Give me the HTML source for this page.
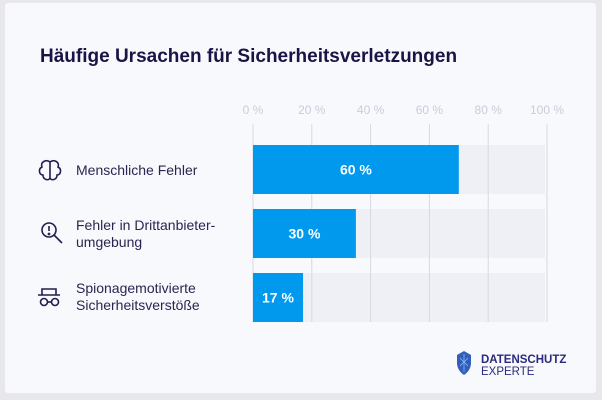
<!DOCTYPE html>
<html><head><meta charset="utf-8"><style>
body{margin:0;width:602px;height:400px;background:#e8e8ec;overflow:hidden;font-family:"Liberation Sans",sans-serif}
#card{position:absolute;left:5px;top:3px;width:591px;height:390px;background:#f8f9fd;border-radius:3px}
svg{position:absolute;left:0;top:0}
</style></head><body>
<div id="card"></div>
<svg id="chart" width="602" height="400">
<text x="40" y="62" font-size="19" font-weight="bold" fill="#1a1446">Häufige Ursachen für Sicherheitsverletzungen</text>
<g fill="none" stroke="#231c50" stroke-width="1.6">
<path d="M50 162 c-4-3-10 0-8 5 c-4 2-3 8 1 8 c0 5 6 6 7 3 c1 3 7 2 7-3 c4 0 5-6 1-8 c2-5-4-8-8-5z M50 162 v16"/></g>
<g fill="none" stroke="#231c50" stroke-width="1.6">
<circle cx="49" cy="230" r="7"/><line x1="54" y1="235" x2="62" y2="243"/><line x1="49" y1="226" x2="49" y2="231"/><circle cx="49" cy="234" r="0.6"/></g>
<g fill="none" stroke="#231c50" stroke-width="1.6">
<path d="M42 295 v-6 h14 v6 M38 295 h22"/><circle cx="44" cy="302" r="3.5"/><circle cx="55" cy="302" r="3.5"/><line x1="47.5" y1="302" x2="51.5" y2="302"/></g>
<g font-size="14" fill="#2a2550">
<text x="76" y="175">Menschliche Fehler</text>
<text x="76" y="230"><tspan x="76">Fehler in Drittanbieter-</tspan><tspan x="76" dy="17">umgebung</tspan></text>
<text x="76" y="293"><tspan x="76">Spionagemotivierte</tspan><tspan x="76" dy="17">Sicherheitsverstöße</tspan></text>
</g>
<g id="plot"></g>
<g>
<path d="M457 355 l7-4 l7 4 v8 c0 6-4 10-7 12 c-3-2-7-6-7-12z" fill="#2f5fb8"/>
<path d="M460 358 l8 8 M468 358 l-8 8 M464 354 v18" stroke="#8fb6ff" stroke-width="0.8" fill="none"/>
<text x="481" y="363" font-size="11.5" font-weight="bold" fill="#2b2a7c">DATENSCHUTZ</text>
<text x="481" y="375" font-size="11.5" fill="#2b2a7c">EXPERTE</text>
</g>
</svg>
<script>
const categories=["Menschliche Fehler","Fehler in Drittanbieterumgebung","Spionagemotivierte Sicherheitsverstöße"];
const values=[70,35,17];
const valueLabels=["60 %","30 %","17 %"];
const ticks=[0,20,40,60,80,100];
const tickLabels=["0 %","20 %","40 %","60 %","80 %","100 %"];
const NS="http://www.w3.org/2000/svg";
const g=document.getElementById('plot');
const x=v=>253+v*2.94;
const y=i=>145+i*64;
const bh=49;
function mk(t,a){const e=document.createElementNS(NS,t);for(const k in a)e.setAttribute(k,a[k]);g.appendChild(e);return e;}
categories.forEach((c,i)=>{
 const tr=mk('rect',{x:x(0),y:y(i),width:x(100)-x(0)-2,height:bh,fill:'#eef0f6'});
 
 
});
ticks.forEach((t,i)=>{
 const l=mk('line',{x1:x(t),x2:x(t),y1:124,y2:322,stroke:'#d6d9e3','stroke-width':1});
 
 
 const tx=mk('text',{x:x(t),y:114,'font-size':12,fill:'#c9cdd9','text-anchor':'middle'});
 tx.textContent=tickLabels[i];
 
 
});
values.forEach((v,i)=>{
 const r=mk('rect',{x:x(0),y:y(i),width:x(v)-x(0),height:bh,fill:'#0099ee'});
 
 
 const t=mk('text',{x:(x(0)+x(v))/2,y:y(i)+bh/2+5,'font-size':14,'font-weight':'bold',fill:'#fff','text-anchor':'middle'});
 t.textContent=valueLabels[i];
 
 
});
</script>
</body></html>
